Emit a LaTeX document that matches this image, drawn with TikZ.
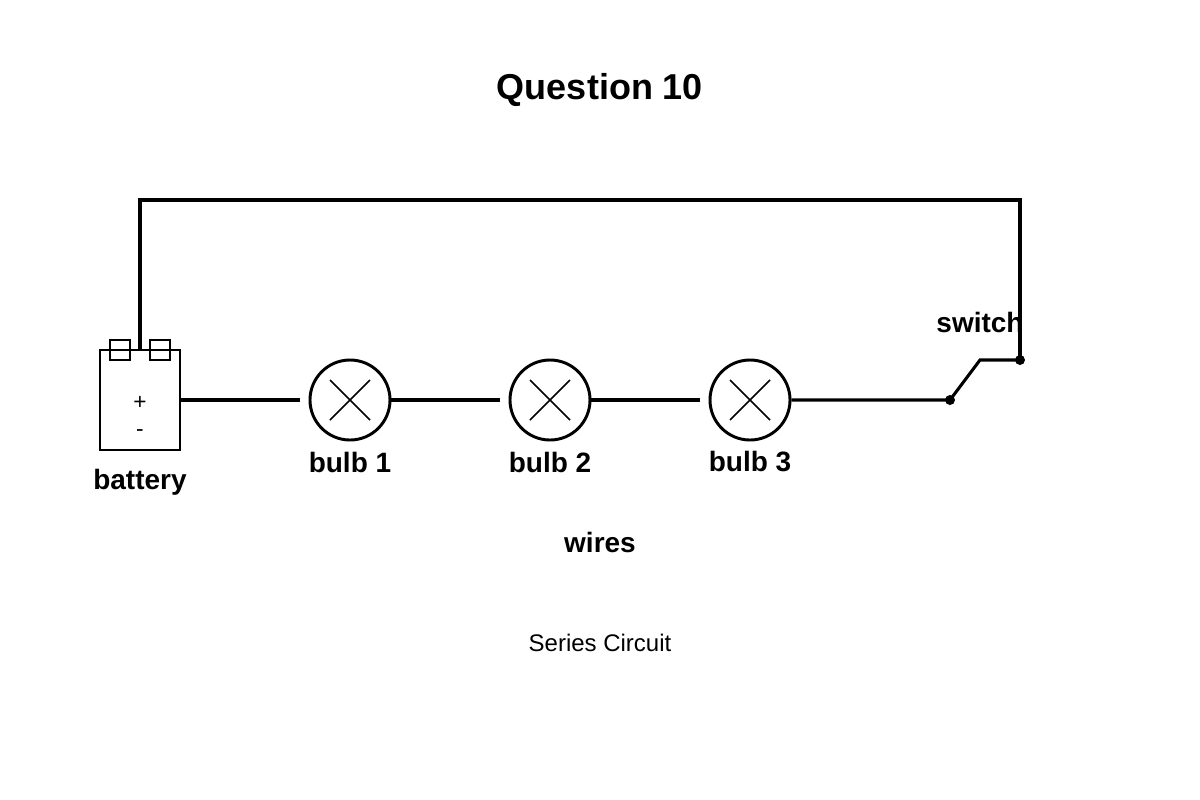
\documentclass[tikz,border=0pt]{standalone}
\usepackage{fontspec}
\setmainfont{Liberation Sans}
\begin{document}
\begin{tikzpicture}[x=0.75pt,y=-0.75pt,
  wire/.style={line width=2.3pt},
  lbl/.style={font=\fontsize{21}{25}\selectfont\bfseries},
  bulb/.style={circle,draw,line width=2.2pt,minimum size=60pt,inner sep=0pt},
  dot/.style={circle,fill,inner sep=0pt,minimum size=7.5pt}]
\useasboundingbox (0,0) rectangle (1200,800);
\node[font=\fontsize{27}{32}\selectfont\bfseries] (title) at (600,90) {Question 10};
% battery
\node[draw,line width=1.6pt,minimum width=60pt,minimum height=75pt,inner sep=0pt] (bat) at (140,400) {};
\draw[line width=1.1pt] (110,340) rectangle (130,360) (150,340) rectangle (170,360);
\node[font=\fontsize{17}{20}\selectfont] (plus) at (140,403) {+};
\node[font=\fontsize{17}{20}\selectfont] (minus) at (140,433) {-};
\node[lbl] (batl) at (140,482) {battery};
% bulbs
\foreach \i/\x in {1/350,2/550,3/750}{
  \node[bulb] (b\i) at (\x,400) {};
  \draw[line width=1.3pt] (\x-20,380) -- (\x+20,420) (\x-20,420) -- (\x+20,380);
  \node[lbl] (bl\i) at (\x,462) {bulb \i};
}
\coordinate (t0) at (140,350);
\coordinate (t1) at (140,200);
\coordinate (t2) at (1020,200);
\coordinate (w1) at (300,400);
\coordinate (w2) at (500,400);
\coordinate (w3) at (700,400);
\node[dot] (s1) at (950,400) {};
\node[dot] (s2) at (1020,360) {};
\coordinate (sk) at (980,360);
\draw[wire] (t0) -- (t1) -- (t2) -- (s2.center);
\draw[wire] (bat.east) -- (w1);
\draw[wire] (b1.east) -- (w2);
\draw[wire] (b2.east) -- (w3);
\draw[wire] (b3.east) -- (s1.center) -- (sk) -- (s2.center);
\node[lbl] (sw) at (980,322) {switch};
\node[lbl] (wires) at (600,542) {wires};
\node[font=\fontsize{18}{22}\selectfont] (cap) at (600,643) {Series Circuit};
\end{tikzpicture}
\end{document}
